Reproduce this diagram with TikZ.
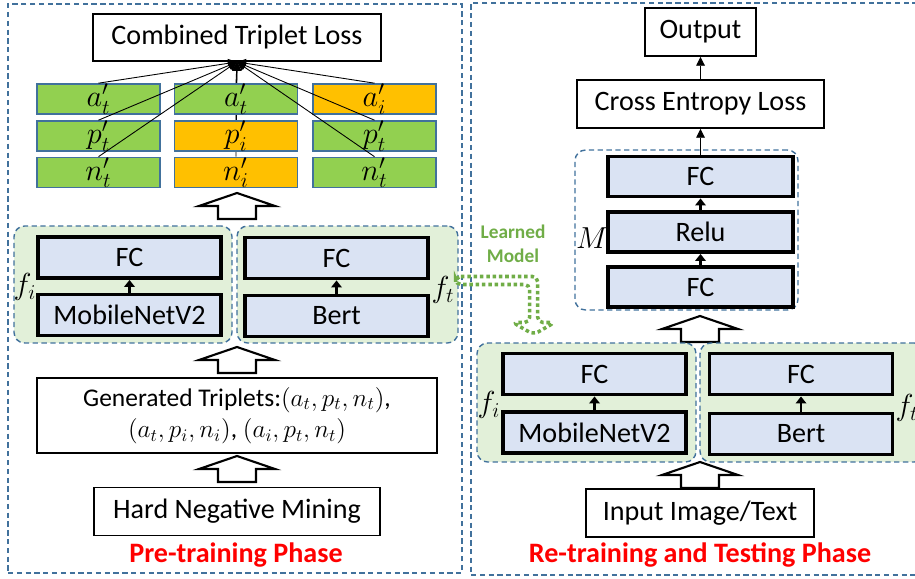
\documentclass[tikz,border=0pt]{standalone}
\usepackage{fontspec}
\setmainfont{Carlito}
\definecolor{tGreen}{HTML}{92D050}
\definecolor{tOrange}{HTML}{FFC000}
\definecolor{tEdge}{HTML}{41719C}
\definecolor{lBlue}{HTML}{DAE3F3}
\definecolor{gFill}{HTML}{E2F0D9}
\definecolor{lGreen}{HTML}{70AD47}
\usetikzlibrary{arrows.meta, calc, backgrounds}

\tikzset{
  panel/.style={draw=tEdge, line width=0.8pt, dash pattern=on 3pt off 2pt},
  grp/.style={panel, rounded corners=6, fill=gFill, minimum height=2.34cm},
  plainbox/.style={draw, line width=1.1pt, fill=white, minimum height=0.96cm, inner sep=0pt},
  layerbox/.style={draw, line width=2.2pt, fill=lBlue, minimum width=3.66cm, minimum height=0.82cm, inner sep=0pt},
  tripbox/.style={draw=tEdge, line width=0.8pt, minimum width=2.46cm, minimum height=0.6cm, inner sep=0pt, font=\fontsize{17}{18}\selectfont},
  tripline/.style={line width=0.5pt, -{Triangle[length=5pt,width=5pt]}},
  smallarr/.style={line width=1.2pt, -{Triangle[length=4pt,width=6pt]}},
  biglab/.style={font=\fontsize{18}{20}\selectfont},
  phase/.style={text=red, font=\fontsize{16}{19}\selectfont\bfseries},
  learnarr/.style={draw=lGreen, line width=2pt, dash pattern=on 2pt off 1.6pt, rounded corners=3},
  hollowup/.pic={\draw[line width=1.2pt, fill=white] (0,0) -- (38,13) -- (19,13) -- (19,26) -- (-19,26) -- (-19,13) -- (-38,13) -- cycle;}
}

\begin{document}
\begin{tikzpicture}[x=0.02cm, y=-0.02cm, font=\fontsize{16}{19}\selectfont]
	\useasboundingbox (0,0) rectangle (915,578);
	\clip (0,0) rectangle (915,578);
	% the two phases
	\node[panel, minimum width=9.08cm, minimum height=11.38cm] (preF) at (235,288.5) {};
	\node[panel, minimum width=8.94cm, minimum height=11.44cm] (reF) at (694.5,289) {};
	\node[phase] (preT) at (236,555) {Pre-training Phase};
	\node[phase] (reT) at (700,555) {Re-training and Testing Phase};

	% ---- pre-training ----
	\node[plainbox, minimum width=5.76cm, minimum height=0.94cm] (loss) at (237,37.5) {Combined Triplet Loss};
	\foreach \nm/\x/\y/\fc/\lab in {
		a1/98.5/99/tGreen/a'_t,
		p1/98.5/136/tGreen/p'_t,
		n1/98.5/172.5/tGreen/n'_t,
		a2/236/99/tGreen/a'_t,
		p2/236/136/tOrange/p'_i,
		n2/236/172.5/tOrange/n'_i,
		a3/374.5/99/tOrange/a'_i,
		p3/374.5/136/tGreen/p'_t,
		n3/374.5/172.5/tGreen/n'_t
	}{
		\node[tripbox, fill=\fc] (\nm) at (\x,\y) {$\lab$};
	}
	\foreach \t in {a1, p1, n1, a2, a3, p3, n3}
	{\draw[tripline] (\t.north) -- (loss.south);}
	\begin{scope}[on background layer]
		\foreach \t in {p2, n2}
		{\draw[tripline] (\t.north) -- (loss.south);}
	\end{scope}
	\pic at (237,193) {hollowup};

	\node[grp, minimum width=4.36cm] (fiL) at (123,284.5) {};
	\node[grp, minimum width=4.42cm] (ftL) at (347.5,284.5) {};
	\foreach \nm/\x/\y/\txt in {
		fcL1/129.5/257.5/FC,
		mobL/129.5/315/MobileNetV2,
		fcL2/336.5/258/FC,
		bertL/336.5/316/Bert
	}{
		\node[layerbox] (\nm) at (\x,\y) {\txt};
	}
	\draw[smallarr] (mobL) -- (fcL1);
	\draw[smallarr] (bertL) -- (fcL2);
	\node[biglab] (fiLab) at (25,287) {$f_i$};
	\node[biglab] (ftLab) at (443,290) {$f_t$};
	\pic at (237,347) {hollowup};

	\node[plainbox, minimum width=8cm, minimum height=1.5cm, align=center, font=\fontsize{14.5}{18}\selectfont] (trip) at (237,415.5)
		{Generated Triplets:$(a_t, p_t, n_t)$,\\ $(a_t, p_i, n_i)$, $(a_i, p_t, n_t)$};
	\pic at (237,456) {hollowup};
	\node[plainbox, minimum width=5.72cm] (hnm) at (237,511.5) {Hard Negative Mining};

	% ---- re-training and testing ----
	\node[plainbox, minimum width=2.22cm] (out) at (700.5,32) {Output};
	\node[plainbox, minimum width=4.94cm] (ce) at (700.5,104) {Cross Entropy Loss};
	\node[panel, rounded corners=6, minimum width=4.46cm, minimum height=3.2cm] (mGrp) at (686.5,230) {};
	\foreach \nm/\y/\txt in {
		fcM2/176.5/FC,
		relu/232/Relu,
		fcM1/287/FC
	}{
		\node[layerbox, minimum width=3.7cm, minimum height=0.8cm] (\nm) at (700.5,\y) {\txt};
	}
	\draw[smallarr] (fcM1) -- (relu);
	\draw[smallarr] (relu) -- (fcM2);
	\draw[tripline] (fcM2.north) -- (ce.south);
	\draw[tripline] (ce.north) -- (out.south);
	\node[biglab] (mLab) at (592,238) {$M$};
	\pic at (700,316) {hollowup};

	\node[grp, minimum width=4.38cm, minimum height=2.38cm] (fiR) at (586.5,402.5) {};
	\node[grp, minimum width=4.5cm, minimum height=2.38cm] (ftR) at (812.5,402.5) {};
	\foreach \nm/\x/\y/\txt in {
		fcR1/594.5/374/FC,
		mobR/594.5/432.5/MobileNetV2,
		fcR2/801/374/FC,
		bertR/801/434/Bert
	}{
		\node[layerbox] (\nm) at (\x,\y) {\txt};
	}
	\draw[smallarr] (mobR) -- (fcR1);
	\draw[smallarr] (bertR) -- (fcR2);
	\node[biglab] (fiRLab) at (489,405) {$f_i$};
	\node[biglab] (ftRLab) at (907,408) {$f_t$};
	\pic at (700,462) {hollowup};
	\node[plainbox, minimum width=4.56cm] (inp) at (700,513) {Input Image/Text};

	% learned model handed over
	\node[text=lGreen, align=center, font=\fontsize{11}{13.5}\selectfont\bfseries] (lm) at (513,244) {Learned\\Model};
	\draw[learnarr] ($(ftL.east)+(-3,-8)$) -- ++(82,0) -- ++(0,46) -- ++(17,0) -- ++(-21,12) -- ++(-21,-12) -- ++(17,0) -- ++(0,-38) -- ++(-74,0) -- cycle;
\end{tikzpicture}
\end{document}
